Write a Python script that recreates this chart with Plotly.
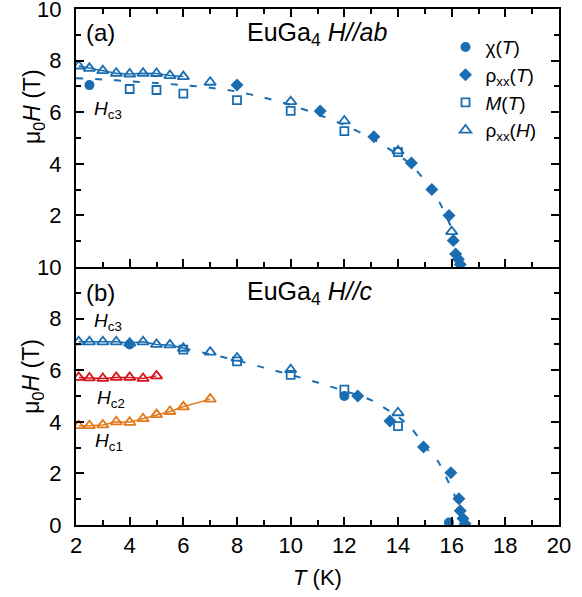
import plotly.graph_objects as go
from plotly.subplots import make_subplots

BLUE = '#1a6db0'
RED = '#d8141c'
ORANGE = '#e2791b'
FONT = 'Liberation Sans'

# ---------------- panel (a): H // ab ----------------
chi_a_T = [2.5]
chi_a_H = [7.05]
rhoT_a_T = [8.0, 11.1, 13.1, 14.5, 15.26, 15.9, 16.06, 16.15, 16.25, 16.32]
rhoT_a_H = [7.05, 6.05, 5.05, 4.03, 3.0, 2.0, 1.03, 0.5, 0.3, 0.1]
M_a_T = [4, 5, 6, 8, 10, 12, 14]
M_a_H = [6.9, 6.86, 6.72, 6.47, 6.05, 5.27, 4.45]
rhoH_a_T = [2.1, 2.5, 3, 3.5, 4, 4.5, 5, 5.5, 6, 7, 10, 12, 14, 16]
rhoH_a_H = [7.79, 7.7, 7.61, 7.51, 7.48, 7.51, 7.5, 7.42, 7.38, 7.16, 6.41, 5.66, 4.5, 1.37]
guide_a_T = [2, 3, 4, 5, 6, 7, 8, 9, 10, 11, 12, 13, 14, 14.5, 15, 15.5, 16, 16.2, 16.4]
guide_a_H = [7.32, 7.27, 7.2, 7.13, 7.05, 6.95, 6.8, 6.57, 6.28, 5.92, 5.5, 5.0, 4.35, 3.95, 3.35, 2.6, 1.5, 0.9, 0.0]

# ---------------- panel (b): H // c ----------------
chi_b_T = [4, 12, 15.9]
chi_b_H = [7.0, 5.0, 0.1]
rhoT_b_T = [12.5, 13.7, 14.95, 15.97, 16.27, 16.32, 16.42, 16.5]
rhoT_b_H = [5.0, 4.03, 3.02, 2.03, 1.02, 0.55, 0.25, 0.05]
M_b_T = [6, 8, 10, 12, 14]
M_b_H = [6.8, 6.34, 5.82, 5.25, 3.83]
rhoH_b_T = [2.1, 2.5, 3, 3.5, 4, 4.5, 5, 5.5, 6, 7, 8, 10, 14]
rhoH_b_H = [7.1, 7.1, 7.1, 7.1, 7.05, 7.1, 7.0, 6.98, 6.85, 6.7, 6.47, 6.02, 4.35]
guide_b_T = [6, 7, 8, 9, 10, 11, 12, 13, 14, 14.5, 15, 15.5, 16, 16.3, 16.5]
guide_b_H = [6.85, 6.62, 6.38, 6.1, 5.82, 5.52, 5.2, 4.84, 4.2, 3.75, 3.05, 2.45, 1.4, 0.7, 0.0]
hc2_T = [2.1, 2.5, 3, 3.5, 4, 4.5, 5]
hc2_H = [5.72, 5.7, 5.68, 5.72, 5.72, 5.68, 5.78]
hc1_T = [2.1, 2.5, 3, 3.5, 4, 4.5, 5, 5.5, 6, 7]
hc1_H = [3.85, 3.85, 3.88, 4.0, 3.98, 4.12, 4.28, 4.4, 4.58, 4.88]

x_ticks = [2, 4, 6, 8, 10, 12, 14, 16, 18, 20]
y_ticks_a = [2, 4, 6, 8, 10]
y_ticks_b = [0, 2, 4, 6, 8, 10]

fig = make_subplots(rows=2, cols=1, shared_xaxes=True, vertical_spacing=0)

DASH = '7px,12px'
MS = dict(circle=10, diamond=10, square=8, tri=10)


def add_panel(row, chi_T, chi_H, rT_T, rT_H, M_T, M_H, rH_T, rH_H, g_T, g_H, n_conn, legend):
    fig.add_trace(go.Scatter(x=g_T, y=g_H, mode='lines', line=dict(color=BLUE, width=2, dash=DASH, shape='spline', smoothing=0.6),
                             showlegend=False, hoverinfo='skip'), row=row, col=1)
    fig.add_trace(go.Scatter(x=rH_T[:n_conn], y=rH_H[:n_conn], mode='lines', line=dict(color=BLUE, width=1.5),
                             showlegend=False, hoverinfo='skip'), row=row, col=1)
    fig.add_trace(go.Scatter(x=chi_T, y=chi_H, mode='markers', name='χ(<i>T</i>)',
                             marker=dict(symbol='circle', size=MS['circle'], color=BLUE), showlegend=legend), row=row, col=1)
    fig.add_trace(go.Scatter(x=rT_T, y=rT_H, mode='markers', name='ρ<sub>xx</sub>(<i>T</i>)',
                             marker=dict(symbol='diamond', size=MS['diamond'], color=BLUE), showlegend=legend), row=row, col=1)
    fig.add_trace(go.Scatter(x=M_T, y=M_H, mode='markers', name='<i>M</i>(<i>T</i>)',
                             marker=dict(symbol='square-open', size=MS['square'], color=BLUE, line=dict(width=1.8, color=BLUE)),
                             showlegend=legend), row=row, col=1)
    fig.add_trace(go.Scatter(x=rH_T, y=rH_H, mode='markers', name='ρ<sub>xx</sub>(<i>H</i>)',
                             marker=dict(symbol='triangle-up-open', size=MS['tri'], color=BLUE, line=dict(width=1.8, color=BLUE)),
                             showlegend=legend), row=row, col=1)


add_panel(1, chi_a_T, chi_a_H, rhoT_a_T, rhoT_a_H, M_a_T, M_a_H, rhoH_a_T, rhoH_a_H, guide_a_T, guide_a_H, 9, True)
add_panel(2, chi_b_T, chi_b_H, rhoT_b_T, rhoT_b_H, M_b_T, M_b_H, rhoH_b_T, rhoH_b_H, guide_b_T, guide_b_H, 9, False)

for T, H, c in [(hc2_T, hc2_H, RED), (hc1_T, hc1_H, ORANGE)]:
    fig.add_trace(go.Scatter(x=T, y=H, mode='lines+markers', line=dict(color=c, width=1.5),
                             marker=dict(symbol='triangle-up-open', size=MS['tri'], color=c, line=dict(width=1.8, color=c)),
                             showlegend=False, hoverinfo='skip'), row=2, col=1)

axis_common = dict(showline=True, linewidth=2, linecolor='black', ticks='inside', ticklen=8, tickwidth=1.5,
                   tickcolor='black', showgrid=False, zeroline=False, automargin=False, ticklabeloverflow='allow',
                   tickfont=dict(family=FONT, size=22, color='black'))
minor = dict(ticks='inside', ticklen=5, tickwidth=1.5, tickcolor='black', dtick=1, tick0=0, showgrid=False)

fig.update_xaxes(range=[2, 20], tickvals=x_ticks, minor=minor, **axis_common)
fig.update_xaxes(row=1, col=1, showticklabels=False, mirror='ticks')
fig.update_xaxes(row=2, col=1, mirror=False, ticklabelstandoff=0,
                 title=dict(text='<i>T</i> (K)', font=dict(family=FONT, size=22, color='black'), standoff=12))
fig.update_yaxes(range=[0, 10], minor=minor, mirror='ticks', ticklabelstandoff=8, **axis_common)
fig.update_yaxes(row=1, col=1, tickvals=y_ticks_a)
fig.update_yaxes(row=2, col=1, tickvals=y_ticks_b)

ann = []
def txt(text, x, y, xref, yref, size, xanchor='left', **kw):
    ann.append(dict(text=text, x=x, y=y, xref=xref, yref=yref, showarrow=False, xanchor=xanchor, yanchor='middle',
                    font=dict(family=FONT, size=size, color='black'), **kw))

txt('(a)', 2.3, 9.1, 'x', 'y', 24)
txt('EuGa<sub>4</sub> <i>H//ab</i>', 8.3, 9.05, 'x', 'y', 25)
txt('<i>H</i><sub>c3</sub>', 2.6, 6.07, 'x', 'y', 19)
txt('(b)', 2.3, 9.03, 'x2', 'y2', 24)
txt('EuGa<sub>4</sub> <i>H//c</i>', 8.3, 8.98, 'x2', 'y2', 25)
txt('<i>H</i><sub>c3</sub>', 2.6, 7.85, 'x2', 'y2', 19)
txt('<i>H</i><sub>c2</sub>', 2.7, 4.9, 'x2', 'y2', 19)
txt('<i>H</i><sub>c1</sub>', 2.65, 3.2, 'x2', 'y2', 19)
txt('μ<sub>0</sub><i>H</i> (T)', -0.089, 6.2, 'paper', 'y', 23, xanchor='center', textangle=-90)
txt('μ<sub>0</sub><i>H</i> (T)', -0.089, 5.75, 'paper', 'y2', 23, xanchor='center', textangle=-90)

fig.update_layout(
    width=582, height=597,
    margin=dict(l=76, r=23, t=9, b=72, autoexpand=False),
    paper_bgcolor='white', plot_bgcolor='white',
    font=dict(family=FONT, color='black'),
    annotations=ann,
    legend=dict(x=0.765, y=0.963, xanchor='left', yanchor='top', bgcolor='rgba(0,0,0,0)',
                font=dict(family=FONT, size=19, color='black'), tracegroupgap=0, itemwidth=30),
)

fig.write_html('out.html', config={'displayModeBar': False},
               post_script="document.body.style.margin='0';document.body.style.padding='0';")
